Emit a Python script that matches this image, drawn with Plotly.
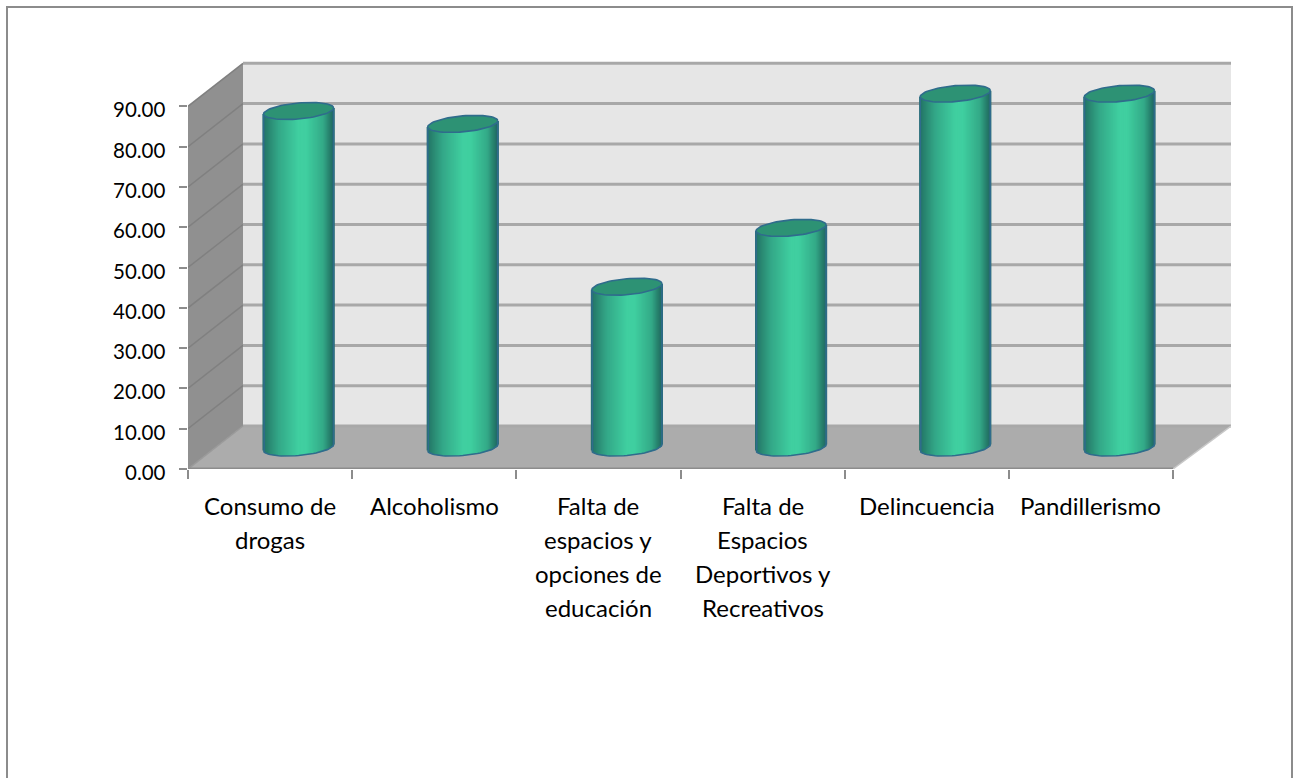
import numpy as np
import plotly.graph_objects as go

# ---------- data ----------
categories = [["Consumo de", "drogas"], ["Alcoholismo"], ["Falta de", "espacios y", "opciones de", "educación"],
              ["Falta de", "Espacios", "Deportivos y", "Recreativos"], ["Delincuencia"], ["Pandillerismo"]]
values = [83.5, 80.3, 39.9, 54.5, 87.8, 87.8]
y_ticks = [0, 10, 20, 30, 40, 50, 60, 70, 80, 90]

# ---------- layout geometry (pixels) ----------
W, H = 1294, 778
L, R, T, B = 188, 1231, 60, 469
UX = (1173 - L) / 6          # px per category
UY = 4.03                    # px per value unit
DX, DY = 55 / UX, 43 / UY    # depth offset in data units
XMAX, YMAX = (R - L) / UX, (B - T) / UY

WALL, SIDE, FLOOR = "#e6e6e6", "#909090", "#acacac"
GRID, SGRID, AXIS = "#a8a8a8", "#808080", "#8c8c8c"
OUT, CAP = "#2f6c8c", "#2d9274"
STOPS = [(0, (36, 112, 104)), (0.06, (40, 130, 110)), (0.22, (52, 168, 136)), (0.5, (64, 207, 160)),
         (0.62, (64, 207, 160)), (0.86, (52, 170, 136)), (0.96, (38, 124, 106)), (1, (34, 106, 102))]


def ramp(t):
    p = [s[0] for s in STOPS]
    return "rgb(%d,%d,%d)" % tuple(np.interp(t, p, [s[1][i] for s in STOPS]) for i in range(3))


fig = go.Figure()


def poly(xs, ys, color):
    path = "M " + " L ".join("%f,%f" % (a, b) for a, b in zip(xs, ys)) + " Z"
    fig.add_shape(type="path", path=path, xref="x", yref="y", fillcolor=color, line=dict(width=0), layer="below")


def seg(x0, y0, x1, y1, color, w):
    fig.add_shape(type="line", x0=x0, y0=y0, x1=x1, y1=y1, xref="x", yref="y",
                  line=dict(color=color, width=w), layer="below")


def line(xs, ys, color, w):
    fig.add_trace(go.Scatter(x=xs, y=ys, mode="lines", line=dict(color=color, width=w),
                             hoverinfo="skip", showlegend=False))


top = max(y_ticks)
poly([DX, XMAX, XMAX, DX], [DY, DY, DY + top, DY + top], WALL)
poly([0, DX, DX, 0], [0, DY, DY + top, top], SIDE)
poly([0, 6, XMAX, DX], [0, 0, DY, DY], FLOOR)
for v in y_ticks[1:]:
    seg(0, v, DX, v + DY, SGRID, 1.5)
for v in y_ticks:
    seg(DX, v + DY, XMAX, v + DY, GRID, 3)
seg(0, 0, DX, DY, "#9a9a9a", 1.5)
seg(6, 0, XMAX, DY, "#c8c8c8", 1.5)

# ---------- cylinders ----------
RAD = 35 / UX
EB = 8 / UY
TILT = (6 / UY) / (2 * RAD)
SHIFT = 1 / UX
N = 70
off = np.linspace(-1, 1, N)
sx, sbase, sh, scol = [], [], [], []
for i, v in enumerate(values):
    cx = i + 0.5 + DX / 2 + SHIFT
    base = DY / 2
    for u in off:
        dx = u * RAD
        low = base + TILT * dx - EB * np.sqrt(max(0, 1 - u * u))
        sx.append(float(cx + dx))
        sbase.append(float(low))
        sh.append(float(base + v + TILT * dx - low))
        scol.append(ramp((u + 1) / 2))
fig.add_trace(go.Bar(x=sx, y=sh, base=sbase, width=2.2 / UX, marker=dict(color=scol, line=dict(width=0)),
                     hoverinfo="skip", showlegend=False))

th = np.linspace(0, 2 * np.pi, 73)
for i, v in enumerate(values):
    cx = i + 0.5 + DX / 2 + SHIFT
    base = DY / 2
    ex = RAD * np.cos(th)
    # silhouette: sides and lower rim
    a = np.linspace(np.pi, 2 * np.pi, 37)
    bx = RAD * np.cos(a)
    xs = np.r_[cx - RAD, cx + bx, cx + RAD]
    ys = np.r_[base + v - TILT * RAD, base + TILT * bx + EB * np.sin(a), base + v + TILT * RAD]
    line(xs, ys, OUT, 1.6)
    # top cap
    fig.add_trace(go.Scatter(x=cx + ex, y=base + v + TILT * ex + EB * np.sin(th), mode="lines", fill="toself",
                             fillcolor=CAP, line=dict(color=OUT, width=1.6), hoverinfo="skip", showlegend=False))


# ---------- outer frame ----------
def px(x): return (x - L) / (R - L)
def py(y): return (B - y) / (B - T)


fig.add_shape(type="rect", xref="paper", yref="paper", x0=px(7), x1=px(1292), y0=py(800), y1=py(7),
              line=dict(color="#8c8c8c", width=2), fillcolor="rgba(0,0,0,0)", layer="below")

XFONT = dict(family="Lato, Carlito, sans-serif", size=24, color="#000000")
YFONT = dict(family="Lato, Carlito, sans-serif", size=20.5, color="#000000")

# category labels, one annotation per text line to keep the wide line spacing of the original
for i, lines in enumerate(categories):
    for k, txt in enumerate(lines):
        fig.add_annotation(x=i + 0.5, xref="x", y=py(505 + 34.3 * k), yref="paper", text=txt, showarrow=False,
                           xanchor="center", yanchor="middle", font=XFONT)
for v in y_ticks:
    fig.add_annotation(x=px(168), xref="paper", y=v, yref="y", yshift=-3, text="%.2f" % v, showarrow=False,
                       xanchor="right", yanchor="middle", font=YFONT)

fig.update_layout(
    width=W, height=H, autosize=False, margin=dict(l=L, r=W - R, t=T, b=H - B, pad=0),
    paper_bgcolor="white", plot_bgcolor="white", showlegend=False, barmode="overlay",
    xaxis=dict(range=[0, XMAX], showgrid=False, zeroline=False, showline=False, tickmode="array",
               tickvals=[], showticklabels=False, ticks="",
               minor=dict(tickmode="array", tickvals=list(range(7)), ticks="outside", ticklen=9, tickwidth=1.5,
                          tickcolor=AXIS, showgrid=False)),
    yaxis=dict(range=[0, YMAX], showgrid=False, zeroline=False, showline=False, tickmode="array",
               tickvals=y_ticks, showticklabels=False, ticks="outside", ticklen=8,
               tickwidth=2, tickcolor=AXIS),
)
line([0, 6], [0, 0], AXIS, 3)

fig.write_html("out.html", config=dict(displayModeBar=False),
               post_script="document.body.style.margin='0';document.body.style.overflow='hidden';")
